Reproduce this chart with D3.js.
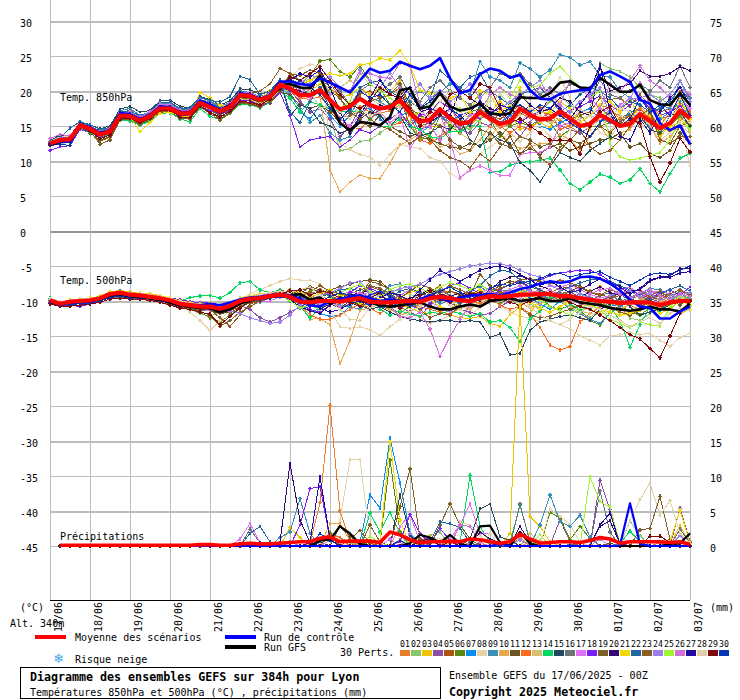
<!DOCTYPE html>
<html lang="fr">
<head>
<meta charset="utf-8">
<title>Diagramme des ensembles GEFS</title>
<style>
    html, body { margin: 0; padding: 0; background: #fff; }
    svg { display: block; }
    text { font-family: "DejaVu Sans Mono", monospace; font-size: 10px; fill: #000; }
    .bold { font-weight: bold; font-size: 11.65px; }
    .domain { display: none; }
    .pert { fill: none; stroke-width: 1; shape-rendering: crispEdges; }
    .m { shape-rendering: crispEdges; }
</style>
</head>
<body>
<svg width="740" height="700"></svg>
<script src="https://d3js.org/d3.v7.min.js"></script>
<script>
// 6-hourly points, 17/06 00Z to 03/07 00Z. Temperatures are in tenths of a degree
const dates = ["17/06","18/06","19/06","20/06","21/06","22/06","23/06","24/06","25/06","26/06","27/06","28/06","29/06","30/06","01/07","02/07","03/07"];
const pertLabels = ["01","02","03","04","05","06","07","08","09","10","11","12","13","14","15","16","17","18","19","20","21","22","23","24","25","26","27","28","29","30"];
const pertColors = ["#e87d2e","#85c76a","#f0c400","#8b4fa8","#b0520f","#5a8a10","#0a8cf0","#e6d3a8","#3a8fb8","#e8a850","#6b5420","#f96a1a","#d4c070","#05d860","#24465e","#6b7478","#e070f5","#7a20f5","#7d5f2a","#35086e","#f0d800","#2064a0","#8c5c20","#9a80e8","#a0f530","#d070d8","#200aa0","#e0d0a8","#800808","#0835b8"];

const t850Mean = [125,130,131,151,146,138,142,165,164,158,164,175,175,168,168,183,177,171,177,194,193,187,192,209,204,194,194,201,187,174,178,189,180,175,177,187,168,156,159,174,161,153,156,170,161,153,156,175,166,159,161,171,161,150,153,166,158,150,153,167,157,147,154,172,161];
const t850Control = [124,128,128,152,148,140,144,168,167,160,166,178,177,170,170,186,180,172,178,197,194,188,194,213,214,210,208,218,212,205,198,215,232,226,229,242,236,231,236,247,218,197,201,224,232,229,219,223,201,189,188,196,199,201,202,223,228,221,213,187,182,154,144,151,124];
const t850Gfs = [123,127,128,150,145,137,141,164,163,157,163,174,174,167,167,182,176,169,176,193,191,186,191,208,210,205,204,222,185,154,144,156,154,151,163,201,204,175,178,197,178,172,175,182,168,166,168,191,190,190,197,212,214,205,204,219,209,199,199,209,187,181,180,197,180];
const t850Perts = [
[126,132,134,149,144,136,140,163,166,160,166,176,177,170,169,185,179,172,176,192,190,185,190,206,200,190,188,192,176,162,165,178,170,168,172,180,165,150,148,165,152,146,150,165,158,148,152,168,162,170,166,158,149,140,148,160,170,165,150,158,165,150,142,160,155],
[123,129,129,150,147,139,143,166,163,157,165,174,176,169,167,182,178,173,178,195,192,188,193,208,206,210,218,205,165,115,117,128,130,140,150,165,155,130,140,150,145,150,145,160,175,165,170,200,180,170,185,195,180,170,175,240,232,228,220,205,195,190,180,195,170],
[122,127,126,148,143,135,141,162,160,150,160,172,173,165,166,180,174,168,174,190,189,184,189,204,210,205,200,210,205,190,195,205,195,205,200,215,170,165,150,150,145,165,170,165,170,185,170,145,150,155,148,175,160,150,155,165,170,150,158,178,165,135,150,155,152],
[127,133,133,152,145,137,143,164,165,159,163,177,174,167,170,184,175,170,179,193,194,186,191,207,200,185,170,175,160,135,150,175,160,175,180,190,150,145,150,165,160,145,140,155,150,170,150,135,155,175,160,150,145,140,148,175,165,150,170,172,150,160,165,178,162],
[125,131,132,147,141,128,134,160,158,153,161,170,171,162,163,176,170,162,172,186,183,178,186,200,205,195,190,205,190,175,180,195,200,190,195,205,175,165,160,175,165,155,150,175,165,160,170,180,172,178,170,165,160,165,170,190,188,190,178,195,178,170,175,200,190],
[124,130,130,149,146,138,144,165,164,156,162,173,175,168,165,181,172,165,175,190,188,183,188,203,217,210,222,243,245,228,220,236,215,205,180,195,150,130,135,165,150,140,170,175,160,135,150,155,150,160,155,135,145,165,150,150,155,160,170,175,160,140,150,165,150],
[123,128,131,153,147,140,146,167,168,162,168,179,178,173,172,188,183,176,180,198,196,191,195,212,190,170,160,180,165,150,165,190,175,160,150,165,170,140,150,165,155,165,170,185,165,155,165,175,170,150,145,155,160,170,175,160,155,155,170,160,150,160,170,185,165],
[128,135,135,154,150,142,145,168,169,163,167,180,179,172,171,187,181,175,180,197,195,189,195,213,220,232,238,236,130,125,116,109,106,94,109,124,120,118,105,100,82,75,90,110,120,130,140,128,140,150,135,125,145,175,165,140,135,150,155,165,150,130,140,155,94],
[124,129,134,156,150,143,148,172,175,165,170,182,183,176,175,190,186,178,184,200,198,192,198,212,195,175,155,165,140,130,135,165,190,185,175,175,190,200,190,198,210,205,195,242,220,215,205,240,232,220,230,252,248,237,242,222,220,200,190,180,170,180,175,215,190],
[126,131,130,148,144,135,140,162,163,155,160,173,172,165,164,180,173,168,173,189,187,182,187,202,215,205,200,195,87,56,70,80,75,75,97,123,130,140,135,120,125,110,115,130,150,140,125,118,120,125,125,138,130,115,135,150,130,140,145,170,150,125,135,150,140],
[123,127,129,146,140,130,135,158,159,152,158,170,170,162,161,177,170,160,170,184,182,177,183,198,195,180,175,180,170,155,140,155,150,165,150,142,135,140,130,125,120,118,125,122,130,140,120,110,118,110,120,125,115,120,125,130,132,140,120,125,110,105,115,140,125],
[125,130,132,151,148,139,142,166,165,158,165,176,176,169,168,184,178,170,176,194,193,186,190,209,210,200,195,205,175,155,150,145,160,170,150,155,165,130,125,135,145,160,150,165,160,150,140,150,145,160,170,145,150,170,165,180,175,160,165,175,160,150,170,180,170],
[124,129,128,147,142,134,139,160,161,154,159,171,172,166,165,179,172,167,172,188,186,181,186,201,200,210,215,225,195,205,215,205,190,180,200,195,175,160,165,150,155,140,130,120,135,150,160,155,170,165,155,160,165,150,145,165,140,165,150,160,170,150,155,170,140],
[122,126,127,146,141,133,138,159,157,151,157,168,169,160,156,175,164,159,168,181,180,176,184,199,190,170,185,180,175,170,172,170,160,150,150,160,150,145,135,132,142,142,151,149,84,85,94,98,99,101,104,87,68,59,70,81,77,68,73,89,68,56,82,104,111],
[129,137,136,155,152,146,150,174,178,170,172,186,187,178,176,192,188,180,186,203,202,195,200,216,165,180,175,155,150,140,145,160,170,165,150,165,140,135,140,150,145,160,130,120,140,130,125,98,87,70,92,112,105,100,115,125,135,130,150,165,145,140,165,170,150],
[127,132,135,152,149,142,147,170,172,164,168,181,181,174,173,188,184,177,182,199,197,190,197,214,210,205,195,205,215,200,180,200,210,200,210,220,195,185,205,215,200,190,180,195,205,225,220,225,210,195,205,195,210,205,190,215,195,190,200,210,200,215,205,236,205],
[125,130,129,150,145,137,142,166,166,161,166,177,174,168,169,185,180,173,178,196,195,187,192,207,205,200,190,200,185,160,150,165,178,170,155,165,118,140,160,166,132,76,87,93,87,79,80,109,112,112,120,150,155,160,165,175,170,180,190,212,180,165,170,190,175],
[115,120,122,145,142,134,140,161,162,155,162,172,173,165,164,178,172,167,172,187,186,180,184,198,165,120,130,133,135,120,130,145,140,150,160,170,150,165,170,185,175,165,170,160,170,175,160,155,165,170,175,165,172,178,185,193,180,170,180,190,175,165,170,178,165],
[126,131,131,147,143,124,130,159,160,153,160,171,172,161,160,178,168,158,169,183,181,177,185,200,225,215,210,215,200,190,170,160,185,190,195,210,180,150,155,150,130,120,115,145,140,125,120,135,130,120,125,115,130,125,135,150,140,155,165,150,170,130,125,135,135],
[124,130,133,151,147,139,141,164,167,160,167,178,175,170,170,186,181,175,177,193,191,188,193,210,205,200,195,225,205,170,160,175,165,180,175,200,170,160,155,165,175,160,170,185,175,170,175,165,180,170,175,190,185,170,165,235,200,205,210,229,221,221,225,235,229],
[126,132,132,150,146,138,143,165,163,142,155,168,170,164,163,198,190,180,178,196,192,190,200,212,215,210,215,222,225,222,225,238,239,247,244,258,237,201,197,195,190,195,170,200,195,170,180,205,175,170,170,185,175,155,165,180,185,170,190,160,175,165,150,190,160],
[127,133,147,156,152,145,148,170,171,165,169,184,184,175,176,191,187,184,192,221,216,195,199,215,170,155,185,205,175,160,170,205,212,215,200,190,185,175,190,229,217,205,220,225,200,190,180,195,200,205,190,170,180,195,205,200,190,175,185,180,170,175,185,205,185],
[125,129,130,149,144,136,141,163,164,157,164,175,176,168,167,183,178,172,180,197,197,200,210,232,225,222,230,225,212,190,165,170,160,150,145,135,125,135,130,115,105,100,90,110,100,120,135,110,125,105,95,120,130,145,120,110,115,130,150,165,175,130,125,150,155],
[126,131,132,152,147,140,144,167,165,159,165,177,178,171,169,184,179,173,179,196,194,188,193,210,205,195,210,215,220,205,200,230,215,205,225,205,195,210,190,200,185,195,210,190,205,175,185,195,205,215,190,180,170,185,195,205,165,175,190,190,195,185,195,215,185],
[124,129,130,150,146,138,142,164,164,158,162,175,174,167,168,182,176,171,176,192,192,186,191,206,205,210,225,215,200,175,185,225,210,200,190,180,165,170,185,170,160,175,165,155,195,205,190,215,205,208,225,235,220,205,190,200,125,106,101,104,108,112,130,160,145],
[132,138,136,153,148,141,146,169,170,163,170,181,180,173,172,187,182,175,182,198,198,190,196,211,200,210,222,220,195,205,200,225,225,220,218,240,235,180,150,130,180,150,165,170,195,205,195,190,190,205,200,180,215,205,190,175,210,200,215,236,215,205,190,205,195],
[125,130,131,151,147,138,143,166,165,159,166,178,177,170,169,185,180,174,181,197,196,190,194,211,215,225,220,230,205,170,140,165,190,215,195,190,205,170,175,170,165,200,190,180,165,180,175,195,180,170,190,175,160,180,200,237,170,135,130,160,140,170,190,205,180],
[124,128,130,148,144,136,139,161,162,156,163,173,174,166,166,181,175,169,175,191,190,185,190,205,205,215,200,175,180,170,160,175,165,170,150,175,190,170,165,185,200,170,160,165,185,195,180,165,175,165,190,220,190,160,165,160,165,175,170,150,155,145,165,175,155],
[123,128,128,149,143,132,137,160,161,155,161,172,173,163,162,179,169,163,171,185,184,180,188,203,220,215,225,235,215,195,180,175,185,205,195,190,175,150,170,165,195,200,190,210,205,175,155,160,150,140,130,130,130,110,150,170,178,150,160,154,106,70,97,132,113],
[122,124,122,153,149,141,145,169,168,161,167,178,178,171,171,187,182,175,178,197,195,188,192,208,200,215,205,195,175,160,175,200,190,195,180,170,195,175,185,200,175,165,150,180,170,165,175,180,170,180,175,165,155,145,135,155,170,150,160,190,170,180,165,195,165]
];

const t500Mean = [-99,-104,-101,-100,-99,-96,-90,-88,-91,-92,-94,-96,-99,-104,-106,-108,-108,-111,-107,-100,-97,-96,-93,-91,-94,-101,-102,-100,-100,-101,-98,-96,-101,-102,-102,-101,-100,-101,-96,-94,-96,-99,-100,-96,-93,-94,-93,-91,-91,-90,-90,-93,-93,-96,-98,-100,-101,-103,-102,-102,-102,-106,-102,-100,-100];
const t500Control = [-100,-105,-102,-101,-100,-96,-91,-89,-92,-93,-95,-97,-100,-105,-105,-106,-104,-106,-102,-98,-95,-94,-92,-90,-92,-97,-106,-108,-100,-97,-94,-92,-96,-100,-98,-100,-102,-98,-92,-96,-100,-95,-92,-92,-90,-92,-88,-83,-80,-75,-72,-74,-72,-66,-65,-68,-75,-85,-98,-108,-110,-125,-125,-115,-108];
const t500Gfs = [-101,-104,-102,-100,-100,-97,-92,-90,-93,-94,-96,-98,-102,-106,-108,-110,-110,-116,-112,-104,-99,-96,-94,-92,-92,-90,-98,-95,-104,-98,-96,-98,-102,-106,-108,-106,-104,-102,-108,-112,-112,-108,-105,-108,-100,-98,-96,-100,-98,-96,-100,-100,-96,-102,-104,-106,-110,-112,-114,-112,-108,-112,-112,-115,-104];
const t500Perts = [
[-96,-102,-99,-98,-96,-93,-88,-86,-89,-90,-92,-95,-97,-101,-103,-105,-104,-108,-104,-97,-95,-93,-91,-88,-92,-98,-105,-96,-102,-110,-104,-92,-94,-98,-96,-105,-108,-96,-90,-88,-86,-92,-88,-96,-84,-92,-88,-82,-90,-86,-94,-88,-92,-96,-86,-80,-88,-92,-84,-96,-90,-94,-104,-86,-92],
[-98,-103,-100,-100,-98,-95,-90,-87,-90,-91,-93,-96,-101,-108,-112,-118,-122,-116,-108,-102,-99,-97,-94,-92,-90,-96,-100,-95,-104,-110,-106,-100,-92,-88,-86,-84,-90,-98,-94,-86,-80,-84,-90,-96,-86,-82,-94,-88,-104,-112,-96,-98,-110,-116,-124,-112,-104,-108,-124,-128,-118,-110,-112,-98,-96],
[-100,-105,-101,-99,-100,-97,-92,-90,-92,-93,-95,-97,-100,-103,-105,-107,-107,-110,-106,-99,-96,-95,-92,-89,-96,-104,-100,-106,-98,-92,-100,-108,-104,-100,-96,-106,-110,-116,-118,-114,-120,-124,-125,-122,-132,-136,-120,-108,-118,-96,-92,-98,-102,-108,-112,-116,-110,-116,-118,-114,-104,-110,-112,-118,-112],
[-97,-102,-100,-99,-97,-94,-89,-86,-90,-91,-93,-94,-98,-103,-106,-110,-112,-113,-110,-106,-112,-124,-130,-124,-116,-108,-100,-106,-104,-98,-92,-102,-96,-100,-110,-108,-116,-122,-106,-98,-102,-112,-116,-120,-118,-108,-100,-94,-102,-96,-90,-100,-92,-106,-112,-100,-94,-106,-98,-88,-96,-102,-100,-92,-88],
[-100,-106,-103,-101,-99,-98,-92,-91,-93,-95,-97,-98,-103,-110,-112,-114,-112,-118,-114,-108,-102,-100,-92,-84,-88,-94,-96,-88,-92,-98,-90,-84,-80,-84,-92,-100,-108,-102,-88,-78,-94,-104,-90,-84,-96,-90,-84,-78,-86,-92,-88,-82,-80,-78,-88,-90,-96,-92,-88,-84,-96,-92,-90,-84,-90],
[-99,-104,-102,-100,-101,-96,-91,-89,-92,-92,-94,-97,-100,-106,-110,-116,-124,-130,-120,-110,-98,-92,-88,-85,-90,-96,-86,-84,-88,-96,-100,-104,-106,-96,-112,-116,-108,-98,-92,-94,-100,-110,-104,-96,-100,-104,-96,-90,-100,-94,-108,-112,-106,-112,-128,-134,-118,-106,-116,-120,-110,-112,-104,-96,-100],
[-98,-103,-102,-100,-98,-96,-90,-88,-90,-92,-92,-95,-98,-102,-104,-106,-105,-108,-106,-100,-94,-96,-90,-86,-94,-106,-112,-118,-122,-120,-108,-96,-102,-108,-112,-98,-104,-108,-100,-88,-104,-98,-92,-100,-96,-88,-92,-84,-96,-104,-112,-100,-96,-90,-94,-100,-108,-104,-96,-110,-100,-112,-98,-106,-94],
[-98,-102,-100,-97,-96,-94,-88,-87,-89,-90,-92,-94,-99,-106,-116,-128,-142,-128,-112,-100,-90,-84,-78,-72,-68,-70,-70,-76,-112,-137,-139,-137,-141,-149,-137,-126,-118,-124,-132,-128,-120,-110,-106,-100,-96,-106,-116,-122,-124,-130,-128,-134,-140,-150,-156,-163,-150,-148,-145,-148,-146,-156,-165,-152,-146],
[-100,-104,-103,-102,-100,-97,-93,-90,-92,-94,-95,-98,-101,-104,-107,-110,-108,-110,-108,-103,-99,-101,-96,-92,-100,-110,-114,-112,-102,-106,-108,-112,-100,-92,-78,-76,-82,-88,-96,-104,-100,-92,-84,-80,-88,-96,-92,-88,-84,-92,-96,-100,-112,-118,-126,-132,-118,-108,-100,-90,-82,-84,-92,-88,-100],
[-99,-103,-101,-100,-98,-95,-91,-88,-91,-92,-94,-96,-100,-105,-108,-110,-110,-112,-108,-104,-98,-95,-94,-90,-94,-104,-126,-125,-134,-190,-156,-113,-110,-104,-112,-120,-116,-104,-98,-100,-96,-106,-110,-100,-92,-88,-94,-102,-110,-104,-96,-92,-98,-104,-108,-100,-96,-112,-104,-98,-94,-100,-108,-96,-104],
[-100,-106,-102,-101,-100,-98,-93,-90,-94,-95,-96,-98,-104,-108,-110,-113,-114,-118,-116,-110,-102,-98,-94,-88,-90,-84,-82,-88,-84,-80,-76,-72,-70,-72,-84,-96,-106,-112,-104,-94,-86,-90,-100,-92,-86,-78,-72,-74,-80,-84,-90,-94,-86,-80,-88,-92,-94,-90,-100,-106,-96,-90,-98,-106,-94],
[-97,-104,-100,-99,-99,-95,-90,-88,-90,-92,-94,-97,-100,-104,-106,-108,-109,-111,-108,-102,-97,-97,-93,-90,-96,-106,-120,-126,-126,-120,-112,-104,-110,-118,-106,-100,-96,-108,-112,-116,-118,-110,-100,-104,-96,-106,-112,-108,-118,-138,-163,-170,-165,-130,-118,-108,-102,-98,-106,-112,-100,-104,-96,-92,-98],
[-101,-105,-102,-100,-101,-98,-92,-91,-92,-93,-96,-98,-102,-106,-108,-110,-111,-113,-110,-102,-98,-98,-95,-92,-98,-92,-88,-96,-100,-108,-96,-90,-92,-88,-94,-104,-98,-90,-82,-86,-100,-108,-112,-100,-104,-92,-98,-86,-90,-84,-96,-100,-108,-114,-118,-120,-108,-112,-106,-100,-92,-98,-102,-94,-108],
[-96,-101,-99,-98,-97,-94,-88,-87,-88,-90,-92,-94,-98,-100,-95,-93,-92,-96,-88,-74,-72,-84,-88,-84,-92,-108,-124,-110,-100,-94,-88,-104,-96,-112,-120,-114,-118,-122,-116,-118,-114,-118,-122,-118,-130,-128,-138,-158,-126,-114,-96,-90,-104,-112,-110,-100,-108,-128,-166,-134,-108,-116,-100,-92,-96],
[-98,-104,-101,-99,-98,-96,-90,-89,-91,-91,-93,-95,-98,-103,-105,-106,-107,-110,-106,-100,-96,-94,-92,-90,-96,-100,-106,-112,-104,-110,-100,-106,-112,-108,-116,-122,-126,-128,-130,-128,-128,-130,-128,-130,-152,-147,-177,-175,-142,-130,-126,-122,-120,-124,-128,-112,-104,-96,-108,-120,-116,-112,-106,-100,-104],
[-99,-103,-100,-99,-99,-95,-89,-87,-90,-91,-94,-96,-99,-104,-107,-109,-106,-108,-104,-98,-94,-96,-93,-88,-92,-86,-90,-84,-94,-102,-94,-88,-84,-92,-86,-94,-100,-96,-90,-84,-92,-98,-94,-88,-82,-86,-84,-78,-84,-92,-98,-90,-86,-96,-100,-92,-88,-102,-94,-90,-86,-92,-98,-84,-90],
[-100,-106,-104,-102,-100,-97,-91,-90,-92,-93,-94,-97,-101,-105,-107,-112,-114,-112,-106,-100,-98,-100,-100,-94,-90,-96,-100,-104,-106,-92,-86,-90,-88,-94,-98,-92,-84,-90,-100,-110,-116,-106,-88,-92,-80,-84,-90,-96,-88,-84,-78,-80,-76,-84,-90,-96,-92,-84,-80,-92,-88,-86,-90,-96,-88],
[-103,-107,-106,-108,-104,-100,-94,-92,-94,-93,-92,-93,-96,-98,-101,-102,-102,-106,-108,-104,-100,-92,-90,-89,-96,-104,-112,-116,-106,-100,-88,-78,-82,-88,-92,-100,-106,-112,-104,-86,-78,-74,-82,-90,-96,-84,-76,-72,-80,-70,-64,-60,-58,-56,-56,-62,-72,-80,-86,-90,-96,-88,-84,-92,-80],
[-102,-106,-103,-102,-101,-99,-94,-92,-94,-96,-98,-99,-104,-109,-110,-115,-120,-136,-128,-116,-108,-100,-96,-88,-86,-90,-80,-84,-92,-102,-98,-92,-78,-82,-90,-98,-104,-112,-124,-118,-120,-106,-92,-62,-78,-88,-96,-110,-120,-124,-122,-116,-112,-106,-100,-104,-108,-116,-120,-112,-92,-86,-96,-102,-98],
[-99,-104,-101,-98,-97,-93,-88,-85,-88,-90,-92,-94,-98,-102,-104,-106,-106,-108,-106,-100,-96,-94,-92,-90,-98,-108,-114,-118,-106,-96,-92,-88,-86,-94,-98,-102,-96,-90,-84,-90,-94,-88,-92,-100,-84,-72,-66,-64,-70,-78,-84,-92,-98,-96,-86,-80,-88,-92,-86,-84,-72,-66,-64,-54,-54],
[-98,-102,-99,-97,-96,-93,-87,-85,-87,-89,-90,-92,-96,-100,-102,-104,-103,-106,-102,-96,-92,-90,-88,-87,-90,-86,-94,-90,-84,-90,-96,-104,-100,-96,-102,-94,-88,-84,-98,-108,-112,-102,-94,-84,-90,-98,-92,-88,-102,-110,-116,-108,-100,-96,-106,-112,-116,-120,-118,-112,-106,-118,-110,-100,-106],
[-97,-102,-100,-98,-98,-94,-89,-86,-90,-90,-93,-95,-99,-102,-105,-106,-105,-109,-104,-98,-96,-93,-90,-86,-88,-94,-100,-94,-90,-84,-82,-86,-96,-102,-94,-86,-82,-88,-94,-100,-96,-104,-86,-78,-64,-56,-58,-70,-76,-84,-92,-86,-80,-74,-70,-68,-72,-78,-84,-92,-100,-90,-84,-78,-86],
[-101,-105,-103,-101,-102,-99,-96,-95,-97,-97,-98,-102,-104,-107,-110,-112,-112,-124,-136,-120,-104,-100,-96,-90,-84,-92,-88,-78,-86,-90,-94,-92,-72,-76,-84,-96,-86,-76,-82,-88,-78,-84,-90,-96,-88,-82,-76,-70,-68,-72,-76,-70,-74,-80,-86,-92,-84,-88,-96,-102,-94,-98,-90,-84,-92],
[-100,-104,-102,-101,-99,-96,-92,-90,-92,-92,-95,-96,-100,-104,-106,-108,-110,-112,-114,-118,-124,-128,-132,-130,-120,-106,-98,-92,-88,-82,-74,-72,-90,-94,-88,-82,-80,-76,-68,-62,-58,-54,-50,-48,-46,-47,-50,-56,-62,-66,-78,-84,-82,-90,-96,-100,-92,-88,-86,-94,-90,-98,-96,-92,-88],
[-99,-103,-101,-100,-100,-97,-91,-88,-90,-92,-93,-96,-100,-105,-108,-109,-109,-112,-108,-100,-98,-94,-92,-91,-100,-110,-106,-112,-96,-88,-82,-76,-86,-94,-84,-78,-76,-82,-88,-80,-74,-78,-84,-76,-86,-92,-88,-82,-92,-98,-108,-114,-120,-110,-104,-112,-126,-132,-138,-130,-134,-136,-108,-92,-106],
[-98,-102,-100,-99,-97,-95,-90,-88,-89,-91,-93,-95,-99,-104,-105,-107,-106,-109,-105,-99,-94,-92,-89,-86,-92,-100,-104,-96,-102,-108,-96,-88,-94,-104,-108,-122,-124,-116,-140,-179,-151,-126,-106,-94,-86,-92,-84,-78,-86,-90,-84,-92,-98,-104,-90,-84,-82,-90,-96,-88,-84,-92,-98,-90,-94],
[-101,-105,-104,-103,-101,-99,-95,-92,-95,-96,-97,-100,-103,-108,-109,-111,-110,-114,-110,-103,-100,-98,-95,-92,-90,-96,-104,-110,-116,-112,-104,-100,-106,-96,-88,-92,-100,-84,-70,-56,-64,-72,-64,-56,-52,-50,-54,-62,-70,-78,-72,-80,-88,-84,-76,-68,-74,-80,-90,-82,-70,-66,-66,-60,-58],
[-97,-101,-99,-97,-97,-94,-89,-86,-89,-89,-91,-93,-97,-100,-103,-105,-104,-107,-103,-97,-93,-91,-88,-86,-88,-84,-80,-92,-100,-112,-126,-128,-110,-98,-104,-112,-116,-108,-100,-96,-106,-112,-120,-110,-102,-96,-90,-94,-108,-120,-128,-134,-126,-116,-108,-112,-120,-128,-136,-130,-124,-132,-118,-110,-114],
[-104,-108,-107,-106,-104,-102,-97,-96,-97,-98,-99,-102,-106,-110,-112,-116,-119,-134,-122,-110,-100,-96,-94,-90,-86,-84,-92,-86,-88,-96,-102,-108,-96,-88,-104,-110,-102,-92,-86,-98,-102,-94,-90,-88,-98,-96,-102,-106,-100,-92,-88,-94,-102,-108,-112,-120,-128,-138,-148,-154,-168,-181,-150,-118,-100],
[-102,-107,-105,-104,-103,-100,-95,-93,-96,-95,-96,-99,-102,-106,-107,-110,-108,-112,-108,-101,-97,-99,-96,-94,-96,-102,-108,-100,-94,-88,-92,-98,-92,-86,-94,-100,-108,-96,-92,-86,-80,-88,-96,-100,-82,-76,-78,-74,-72,-68,-62,-60,-66,-62,-60,-58,-66,-72,-78,-70,-62,-60,-62,-56,-50]
];

// precipitation in mm, one value per point from the second one on
const precipMean = [0.1,0.1,0.1,0.1,0.1,0.1,0.1,0.1,0.1,0.1,0.1,0.1,0.1,0.1,0.2,0.2,0.1,0.1,0.3,0.4,0.3,0.3,0.4,0.5,0.6,0.6,1.1,1.3,0.6,0.7,0.7,0.7,0.5,2,1.6,0.9,0.5,0.6,0.6,0.7,0.6,1,0.9,0.6,0.4,0.6,1.7,1,0.4,0.5,0.6,0.6,0.5,0.8,1.2,1,0.4,0.6,0.6,0.6,0.6,0.5,0.6,0.2];
// [point index, mm] for the points where rain can be read, every other point is 0
const precipControl = [[45,0.3],[57,0.1],[58,6.1],[59,0.3]];
const precipGfs = [[27,0.8],[28,0.9],[29,2.8],[30,1.8],[31,0.3],[36,0.4],[37,1.6],[38,1.2],[39,0.5],[40,1.6],[41,0.3],[43,2.8],[44,2.9],[45,0.5],[47,2],[48,0.3],[62,0.3],[63,0.4],[64,1.8]];
const precipPerts = [
[[26,0.4],[27,6.2],[28,20.1],[29,5],[30,0.8],[42,0.5],[47,1.2],[61,0.5]],
[[28,2],[29,1.2],[30,0.5],[38,1.5],[39,2],[58,3.6],[59,1.5]],
[[24,2.6],[25,1.2],[38,1.4],[46,1.8],[47,34.5],[48,4.2],[49,2.8],[50,0.6],[63,3]],
[[51,3.8],[52,0.6],[55,9.4],[56,5.2],[57,0.4],[63,5.4],[64,0.6]],
[[28,1.5],[31,0.6],[37,0.8],[38,1.2],[44,0.4],[53,0.4]],
[[28,0.8],[32,0.6],[33,0.4],[34,12.3],[35,2],[50,4.8],[51,4],[52,0.9],[53,2.8],[54,1.1]],
[[23,0.4],[31,0.6],[32,7.3],[33,5.4],[34,15.4],[35,9],[36,1.8],[37,0.4],[52,0.2]],
[[29,3.7],[30,12.3],[31,12.4],[32,1],[38,1.2],[39,1],[41,3.5],[42,3],[43,1.5],[50,5.3],[51,4.2],[52,3.1],[53,0.5]],
[[23,1.2],[24,2],[25,6.8],[26,1.8],[49,3],[50,7.3],[51,3.5],[52,2.8],[53,4.4],[54,1.3]],
[[28,3.2],[29,3.2],[30,0.8],[36,0.8],[48,0.5],[49,0.8]],
[[29,2.8],[30,1.4],[43,0.5],[56,0.4]],
[[28,1.6],[29,1.2],[31,0.5],[33,0.6],[35,0.9]],
[[38,1],[39,0.6],[48,1.8],[49,0.5]],
[[32,4.7],[33,2],[34,4.8],[35,1.8],[40,1.5],[41,0.4],[42,10.1],[43,2.8],[44,0.4],[46,0.6],[47,5.8],[48,0.7],[57,0.4],[58,2.1],[59,0.6]],
[[27,0.6],[35,7.3],[36,1.5],[42,1],[43,5.3],[44,6],[45,1.3],[46,0.8]],
[[20,2.4],[21,0.5],[47,6],[48,0.5],[55,7.9],[56,2],[63,2.4],[64,0.5]],
[[19,1],[20,3.2],[21,0.5],[35,2.8],[36,4.5],[37,0.6],[40,1],[41,3],[42,6],[43,1.8],[44,1.8]],
[[25,3],[26,8.2],[27,8.5],[28,1],[35,0.6],[36,4.5],[37,1.8],[38,0.3],[39,2.5],[40,0.8]],
[[32,3],[33,0.6],[35,5.6],[36,11],[37,1],[39,3],[40,6],[41,3],[42,1],[59,2.3],[60,2.5],[61,7.1],[62,0.9]],
[[23,0.5],[24,11.8],[25,3.7],[26,0.5],[43,2],[44,1],[45,0.5],[47,2.8],[48,0.5],[55,2.8],[56,3.6],[57,0.3]],
[[33,0.5],[34,14.9],[35,3.7],[62,0.6],[63,5.1],[64,0.4]],
[[20,1.8],[21,2.8],[22,0.6],[38,0.5],[39,3.4],[40,3.2],[41,2.6],[42,0.5]],
[[28,2],[30,1],[31,2.2],[32,0.4],[38,0.9]],
[[24,0.6],[28,0.8],[36,1.8],[37,0.5],[47,0.9],[63,1.5]],
[[32,1.4],[33,0.5],[49,1.6],[54,9.9],[55,6.3],[56,5.6],[57,0.3]],
[[34,1],[41,3],[42,2.8],[43,0.5],[55,1]],
[[26,0.5],[27,9.9],[28,1],[37,0.6],[38,1.1],[55,3],[56,4.7],[57,0.3]],
[[44,1.8],[58,3.7],[59,6.6],[60,9],[61,4.4],[62,6.5],[63,1.8],[64,0.4]],
[[40,0.6],[60,1.4],[61,1.4],[62,0.5]],
[[21,0.5],[27,1.8],[28,0.8],[35,0.8]]
];

const svg = d3.select("svg");

// scales: both y axes share the same pixels, 7 px per unit
const x = d3.scaleLinear().domain([0, 64]).range([50, 690]);
const yTemp = d3.scaleLinear().domain([-45, 30]).range([546, 21]);
const yMm = d3.scaleLinear().domain([0, 75]).range([546, 21]);
const thickTemps = [30, 20, 10, -10, -20, -30, -40];

// left axis doubles as the horizontal grid
const gridG = svg.append("g")
    .attr("transform", "translate(50,0)")
    .call(d3.axisLeft(yTemp).tickValues(d3.range(-45, 31, 5)).tickSize(-640).tickFormat(d => String(d)));
gridG.selectAll("line")
    .attr("stroke", d => d === 0 ? "#949494" : "#bdbdbd")
    .attr("stroke-width", d => (d === 0 || thickTemps.includes(d)) ? 2 : 1)
    .attr("shape-rendering", "crispEdges");
gridG.selectAll("text").attr("text-anchor", "start").attr("x", -30).attr("dy", "0.5em");

svg.append("g")
    .attr("transform", "translate(710,0)")
    .call(d3.axisRight(yMm).tickValues(d3.range(0, 76, 5)).tickSize(0).tickPadding(0))
    .selectAll("text").attr("dy", "0.5em");

// bottom axis doubles as the vertical grid
const xAxis = svg.append("g")
    .attr("transform", "translate(0,600)")
    .call(d3.axisBottom(x).tickValues(d3.range(0, 65, 4)).tickSize(-600).tickFormat(i => dates[i / 4]));
xAxis.selectAll("line").attr("stroke", "#bdbdbd").attr("shape-rendering", "crispEdges");
xAxis.selectAll("text")
    .attr("x", 0).attr("y", 0).attr("dy", "0")
    .attr("transform", "translate(11,32) rotate(-90)")
    .attr("text-anchor", "start");
svg.append("line").attr("x1", 50).attr("x2", 690).attr("y1", 600.5).attr("y2", 600.5).attr("stroke", "#000");

const symbols = [d3.symbolCross, d3.symbolDiamond, d3.symbolCircle, d3.symbolCross, d3.symbolSquare];

function drawPert(pts, scale, color, n) {
    const g = svg.append("g");
    const line = d3.line().x(d => x(d[0])).y(d => scale(d[1]));
    g.append("path").attr("class", "pert").attr("stroke", color).attr("d", line(pts));
    const sym = d3.symbol().type(symbols[n % symbols.length]).size(8);
    g.selectAll("path.m").data(pts).join("path")
        .attr("class", "m")
        .attr("fill", color)
        .attr("d", sym)
        .attr("transform", d => "translate(" + x(d[0]) + "," + scale(d[1]) + ")");
}

function drawBold(pts, scale, color, w) {
    const line = d3.line().x(d => x(d[0])).y(d => scale(d[1]));
    svg.append("path").attr("fill", "none").attr("stroke", color).attr("stroke-width", w)
        .attr("stroke-linejoin", "round").attr("d", line(pts));
}

const tenths = arr => arr.map((v, i) => [i, v / 10]);
const fromSparse = list => {
    const m = new Map(list);
    return d3.range(1, 65).map(i => [i, m.get(i) || 0]);
};

// temperatures at 850 hPa, 500 hPa, then precipitation
t850Perts.forEach((s, n) => drawPert(tenths(s), yTemp, pertColors[n], n));
drawBold(tenths(t850Gfs), yTemp, "#000", 2.6);
drawBold(tenths(t850Control), yTemp, "#0000ff", 2.6);
drawBold(tenths(t850Mean), yTemp, "#ff0000", 4.2);

t500Perts.forEach((s, n) => drawPert(tenths(s), yTemp, pertColors[n], n));
drawBold(tenths(t500Gfs), yTemp, "#000", 2.6);
drawBold(tenths(t500Control), yTemp, "#0000ff", 2.6);
drawBold(tenths(t500Mean), yTemp, "#ff0000", 4.2);

precipPerts.forEach((s, n) => drawPert(fromSparse(s), yMm, pertColors[n], n));
drawBold(fromSparse(precipGfs), yMm, "#000", 2.2);
drawBold(fromSparse(precipControl), yMm, "#0000ff", 2.2);
drawBold(precipMean.map((v, i) => [i + 1, v]), yMm, "#ff0000", 3.6);

function label(txt, px, py, cls) {
    return svg.append("text").attr("x", px).attr("y", py).attr("class", cls || null).text(txt);
}
label("Temp. 850hPa", 60, 101);
label("Temp. 500hPa", 60, 284);
label("Précipitations", 60, 540);
label("(°C)", 20, 611);
label("(mm)", 710, 611);
label("Alt. 340m", 10, 627);

// legend
const legendLines = [["#ff0000", 35, 66, 637, "Moyenne des scénarios", 75, 641],
    ["#0000ff", 225, 256, 637, "Run de contrôle", 264, 641],
    ["#000", 225, 256, 647, "Run GFS", 264, 651]];
legendLines.forEach(l => {
    svg.append("line").attr("x1", l[1]).attr("x2", l[2]).attr("y1", l[3]).attr("y2", l[3])
        .attr("stroke", l[0]).attr("stroke-width", 4);
    label(l[4], l[5], l[6]);
});
label("❄", 53, 663).style("font-family", "DejaVu Sans").style("font-size", "13px").style("fill", "#4aa8e8");
label("Risque neige", 75, 663);
label("30 Perts.", 340, 656);

const swatch = d3.scaleBand().domain(pertLabels).range([400, 730]);
svg.selectAll("rect.sw").data(pertLabels).join("rect")
    .attr("class", "sw")
    .attr("x", d => swatch(d)).attr("y", 650).attr("width", 10).attr("height", 6)
    .attr("fill", (d, i) => pertColors[i]);
svg.selectAll("text.swl").data(pertLabels).join("text")
    .attr("class", "swl")
    .attr("x", d => swatch(d) + 5).attr("y", 647).attr("text-anchor", "middle")
    .style("font-size", "8.2px")
    .text(d => d);

// title box
svg.append("rect").attr("x", 20.5).attr("y", 667.5).attr("width", 420).attr("height", 31)
    .attr("fill", "#fff").attr("stroke", "#000");
label("Diagramme des ensembles GEFS sur 384h pour Lyon", 30, 681, "bold");
label("Températures 850hPa et 500hPa (°C) , précipitations (mm)", 30, 696);
label("Ensemble GEFS du 17/06/2025 - 00Z", 449, 679);
label("Copyright 2025 Meteociel.fr", 449, 696, "bold");
</script>
</body>
</html>
